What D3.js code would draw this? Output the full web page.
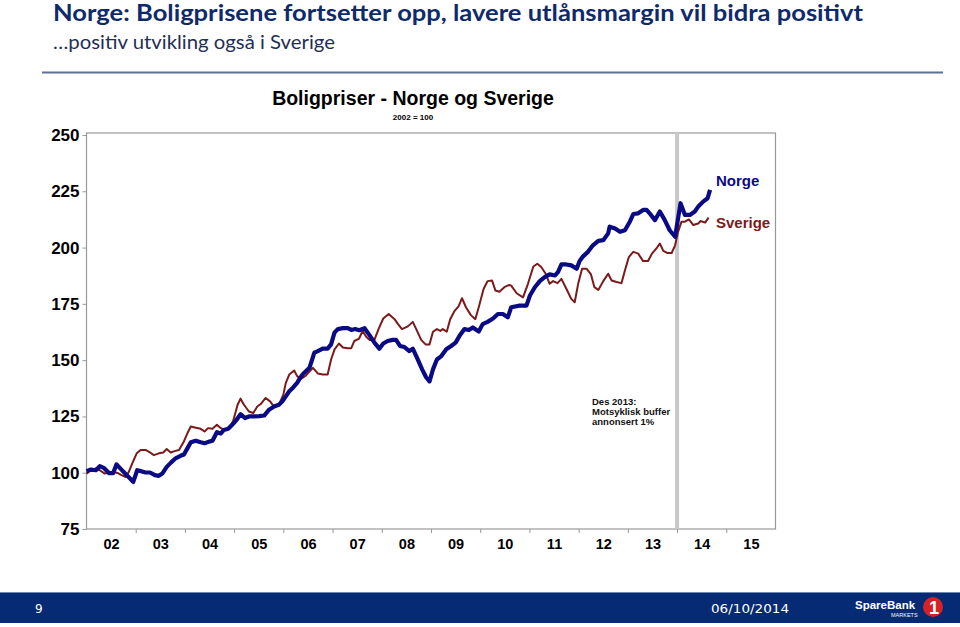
<!DOCTYPE html>
<html><head><meta charset="utf-8">
<script src="https://cdn.jsdelivr.net/npm/d3@7"></script>
<style>body{margin:0;background:#fff}svg{display:block}</style>
</head><body>
<script>
// ---- data ----
const yearLabels = ["02","03","04","05","06","07","08","09","10","11","12","13","14","15"];
const yTicks = [75,100,125,150,175,200,225,250];
const norgeT = [2002.00,2002.09,2002.19,2002.27,2002.36,2002.46,2002.54,2002.61,2002.70,2002.80,2002.90,2002.95,2003.03,2003.11,2003.20,2003.29,2003.39,2003.47,2003.54,2003.63,2003.72,2003.81,2003.91,2003.98,2004.05,2004.12,2004.22,2004.32,2004.40,2004.49,2004.56,2004.65,2004.73,2004.79,2004.88,2004.96,2005.05,2005.13,2005.22,2005.30,2005.40,2005.51,2005.61,2005.71,2005.81,2005.91,2005.98,2006.05,2006.12,2006.20,2006.28,2006.34,2006.39,2006.53,2006.63,2006.70,2006.80,2006.90,2006.97,2007.04,2007.11,2007.21,2007.31,2007.38,2007.46,2007.54,2007.65,2007.75,2007.85,2007.95,2008.03,2008.12,2008.22,2008.29,2008.37,2008.46,2008.56,2008.63,2008.73,2008.82,2008.90,2008.97,2009.04,2009.12,2009.21,2009.31,2009.41,2009.50,2009.58,2009.68,2009.77,2009.85,2009.97,2010.05,2010.15,2010.26,2010.36,2010.46,2010.56,2010.63,2010.80,2010.94,2011.01,2011.11,2011.21,2011.31,2011.41,2011.52,2011.58,2011.65,2011.75,2011.85,2011.96,2012.02,2012.09,2012.19,2012.29,2012.40,2012.50,2012.60,2012.63,2012.74,2012.84,2012.94,2013.04,2013.11,2013.21,2013.31,2013.38,2013.47,2013.55,2013.65,2013.75,2013.85,2013.96,2014.07,2014.16,2014.26,2014.36,2014.43,2014.53,2014.62,2014.67];
const norgeV = [100.7,101.4,101.1,102.9,102.0,99.8,99.8,103.7,101.6,99.3,97.1,95.9,101.1,100.7,100.1,100.1,98.9,98.6,99.6,102.6,104.6,106.4,107.5,108.1,110.8,113.5,114.2,113.5,113.1,113.8,114.2,118.0,117.4,119.0,119.5,121.3,123.5,126.0,124.3,125.0,125.0,125.1,125.4,128.0,129.4,130.2,131.7,133.9,136.2,137.9,139.9,142.1,143.6,146.6,153.3,154.0,155.1,155.1,157.0,162.3,163.8,164.2,164.2,163.4,163.8,163.3,164.2,161.1,157.8,155.1,157.4,158.5,159.0,159.0,156.3,155.8,154.0,155.1,150.3,145.9,142.4,140.6,145.9,150.3,151.8,154.8,156.3,157.8,160.8,163.8,163.4,164.5,162.7,166.0,167.0,168.5,170.5,170.5,169.0,173.5,174.2,174.2,178.7,182.4,185.1,186.9,188.1,187.6,189.1,192.5,192.5,192.1,190.6,194.0,196.1,198.1,201.0,203.0,203.3,206.3,209.3,208.5,207.0,207.7,211.5,214.9,215.2,216.7,216.7,214.5,212.2,216.0,212.2,207.7,204.8,219.7,214.5,214.5,216.0,218.2,220.4,221.9,225.6];
const sverigeT = [2002.00,2002.09,2002.19,2002.27,2002.37,2002.46,2002.54,2002.63,2002.71,2002.80,2002.86,2002.93,2003.02,2003.10,2003.20,2003.29,2003.37,2003.47,2003.56,2003.63,2003.71,2003.79,2003.88,2003.97,2004.05,2004.12,2004.22,2004.32,2004.40,2004.47,2004.56,2004.65,2004.73,2004.81,2004.90,2004.98,2005.07,2005.13,2005.20,2005.30,2005.39,2005.47,2005.54,2005.64,2005.73,2005.81,2005.91,2006.00,2006.05,2006.12,2006.22,2006.28,2006.36,2006.46,2006.60,2006.70,2006.80,2006.90,2006.97,2007.04,2007.13,2007.21,2007.31,2007.38,2007.44,2007.54,2007.61,2007.68,2007.75,2007.85,2007.94,2008.03,2008.14,2008.26,2008.33,2008.41,2008.53,2008.63,2008.70,2008.80,2008.89,2008.97,2009.04,2009.12,2009.19,2009.24,2009.32,2009.39,2009.48,2009.56,2009.63,2009.71,2009.81,2009.90,2009.97,2010.07,2010.15,2010.24,2010.31,2010.39,2010.49,2010.59,2010.63,2010.74,2010.87,2010.97,2011.08,2011.16,2011.24,2011.33,2011.41,2011.48,2011.57,2011.65,2011.75,2011.85,2011.92,2011.99,2012.07,2012.16,2012.25,2012.32,2012.40,2012.50,2012.60,2012.67,2012.77,2012.87,2012.94,2013.02,2013.11,2013.21,2013.31,2013.41,2013.49,2013.58,2013.65,2013.72,2013.80,2013.89,2013.96,2014.02,2014.09,2014.16,2014.24,2014.33,2014.43,2014.48,2014.57,2014.64];
const sverigeV = [99.6,101.1,101.9,101.1,99.6,100.1,100.4,99.9,98.9,98.1,100.4,104.1,108.6,110.1,110.1,109.0,107.8,108.6,109.0,110.5,109.0,109.6,110.1,113.5,117.5,120.5,120.0,119.5,118.3,119.8,119.5,121.3,119.8,119.0,119.5,123.0,130.2,132.9,130.2,127.2,126.5,129.4,130.5,133.2,131.7,129.4,130.2,134.7,139.9,143.6,145.4,142.9,141.7,143.2,146.6,144.1,143.6,143.6,150.3,154.8,157.4,155.6,155.3,155.3,158.5,159.6,163.0,160.5,159.0,159.0,164.1,168.5,170.5,168.2,166.0,163.8,165.0,167.0,163.8,159.0,157.0,157.0,162.6,163.8,163.0,163.8,162.6,168.2,171.9,173.9,177.5,173.5,170.0,168.2,173.5,181.7,185.1,185.4,180.9,180.4,182.4,183.4,183.1,179.7,177.9,183.9,191.6,192.8,191.4,188.4,183.9,185.1,184.2,186.1,181.7,177.2,175.7,183.9,190.6,190.6,188.1,182.4,181.2,185.1,188.4,185.4,184.7,184.2,189.8,195.8,198.1,197.3,194.0,194.0,197.3,199.6,201.8,198.5,197.6,197.6,201.0,207.0,211.5,211.5,212.5,210.0,210.7,211.8,211.1,213.3];
const bufferDate = 2014.0;
const annotation = ["Des 2013:", "Motsyklisk buffer", "annonsert 1%"];

// ---- drawing ----
const W = 960, H = 627;
const svg = d3.select("body").append("svg").attr("width", W).attr("height", H);
const arial = "'Liberation Sans', Arial, sans-serif";
const cal = "Lato, 'Open Sans', sans-serif";

// header
svg.append("text").attr("x", 53).attr("y", 21).attr("font-family", cal).attr("font-weight", 700)
  .attr("font-size", 22).attr("fill", "#0f2a6b")
  .attr("textLength", 810).attr("lengthAdjust", "spacingAndGlyphs")
  .text("Norge: Boligprisene fortsetter opp, lavere utlånsmargin vil bidra positivt");
svg.append("text").attr("x", 53).attr("y", 49).attr("font-family", cal)
  .attr("font-size", 19.5).attr("fill", "#1f2f55")
  .attr("textLength", 282).attr("lengthAdjust", "spacingAndGlyphs")
  .text("…positiv utvikling også i Sverige");
svg.append("line").attr("x1", 42).attr("x2", 943).attr("y1", 72.5).attr("y2", 72.5)
  .attr("stroke", "#5e6f9c").attr("stroke-width", 2);

// scales
const x = d3.scaleLinear().domain([2002, 2016]).range([86.5, 775.5]);
const y = d3.scaleLinear().domain([75, 250]).range([529, 135]);

// chart title
svg.append("text").attr("x", 413).attr("y", 105).attr("text-anchor", "middle")
  .attr("font-family", arial).attr("font-weight", 700).attr("font-size", 19.5).attr("fill", "#000")
  .text("Boligpriser - Norge og Sverige");
svg.append("text").attr("x", 413).attr("y", 120).attr("text-anchor", "middle")
  .attr("font-family", arial).attr("font-weight", 700).attr("font-size", 8).attr("fill", "#000")
  .text("2002 = 100");

// frame
svg.append("rect").attr("x", x(2002)).attr("y", y(250) - 2).attr("width", x(2016) - x(2002))
  .attr("height", y(75) - y(250) + 2).attr("fill", "none").attr("stroke", "#999").attr("stroke-width", 1.2);

// buffer bar
svg.append("line").attr("x1", x(bufferDate)).attr("x2", x(bufferDate))
  .attr("y1", y(250) - 2).attr("y2", y(75)).attr("stroke", "#c8c8c8").attr("stroke-width", 4);

// y axis
const yAxis = svg.append("g").attr("transform", `translate(${x(2002)},0)`)
  .call(d3.axisLeft(y).tickValues(yTicks).tickSize(4).tickPadding(3).tickFormat(d3.format("d")));
yAxis.select(".domain").remove();
yAxis.selectAll("line").attr("stroke", "#999");
yAxis.selectAll("text").attr("font-family", arial).attr("font-weight", 700).attr("font-size", 17).attr("fill", "#000");

// x axis ticks at year boundaries
const xAxis = svg.append("g").attr("transform", `translate(0,${y(75)})`)
  .call(d3.axisBottom(x).tickValues(d3.range(2003, 2016)).tickSize(4).tickFormat(""));
xAxis.select(".domain").remove();
xAxis.selectAll("line").attr("stroke", "#999");
// x labels at mid-year
const xLab = svg.append("g").attr("transform", `translate(0,${y(75)})`)
  .call(d3.axisBottom(x).tickValues(yearLabels.map((d, i) => 2002.5 + i)).tickSize(0).tickPadding(10)
    .tickFormat((d, i) => yearLabels[i]));
xLab.select(".domain").remove();
xLab.selectAll("text").attr("font-family", arial).attr("font-weight", 700).attr("font-size", 14.5).attr("fill", "#000");

// lines
const line = d3.line().x(d => x(d[0])).y(d => y(d[1]));
svg.append("path").datum(d3.zip(sverigeT, sverigeV)).attr("d", line)
  .attr("fill", "none").attr("stroke", "#7a1a1a").attr("stroke-width", 2).attr("stroke-linejoin", "round");
svg.append("path").datum(d3.zip(norgeT, norgeV)).attr("d", line)
  .attr("fill", "none").attr("stroke", "#0a0a84").attr("stroke-width", 4.2).attr("stroke-linejoin", "round");

// series labels
svg.append("text").attr("x", 716).attr("y", 186).attr("font-family", arial).attr("font-weight", 700)
  .attr("font-size", 15).attr("fill", "#0a0a84").text("Norge");
svg.append("text").attr("x", 716).attr("y", 228).attr("font-family", arial).attr("font-weight", 700)
  .attr("font-size", 15).attr("fill", "#7a1a1a").text("Sverige");

// annotation
svg.append("text").attr("font-family", arial).attr("font-weight", 700).attr("font-size", 9.5).attr("fill", "#111")
  .selectAll("tspan").data(annotation).join("tspan")
  .attr("x", 592).attr("y", (d, i) => 405 + i * 10).text(d => d);

// footer
svg.append("rect").attr("x", 0).attr("y", 592).attr("width", W).attr("height", 31).attr("fill", "#062a73");
svg.append("line").attr("x1", 0).attr("x2", W).attr("y1", 592.5).attr("y2", 592.5).attr("stroke", "#6d86b8").attr("stroke-width", 1);
svg.append("text").attr("x", 35).attr("y", 613).attr("font-family", "'DejaVu Sans', sans-serif")
  .attr("font-size", 12).attr("fill", "#fff").text("9");
svg.append("text").attr("x", 711).attr("y", 613).attr("font-family", "'DejaVu Sans', sans-serif")
  .attr("font-size", 12).attr("fill", "#fff").attr("textLength", 78).attr("lengthAdjust", "spacingAndGlyphs").text("06/10/2014");
svg.append("text").attr("x", 855).attr("y", 609).attr("font-family", arial).attr("font-weight", 700)
  .attr("font-size", 11.5).attr("fill", "#fff").text("SpareBank");
svg.append("text").attr("x", 891).attr("y", 617).attr("font-family", arial)
  .attr("font-size", 5.5).attr("fill", "#fff").text("MARKETS");
svg.append("circle").attr("cx", 933).attr("cy", 607).attr("r", 10).attr("fill", "#d2232a");
svg.append("text").attr("x", 934).attr("y", 614).attr("text-anchor", "middle").attr("font-family", arial)
  .attr("font-weight", 700).attr("font-size", 18).attr("fill", "#fff").text("1");
</script>
</body></html>
